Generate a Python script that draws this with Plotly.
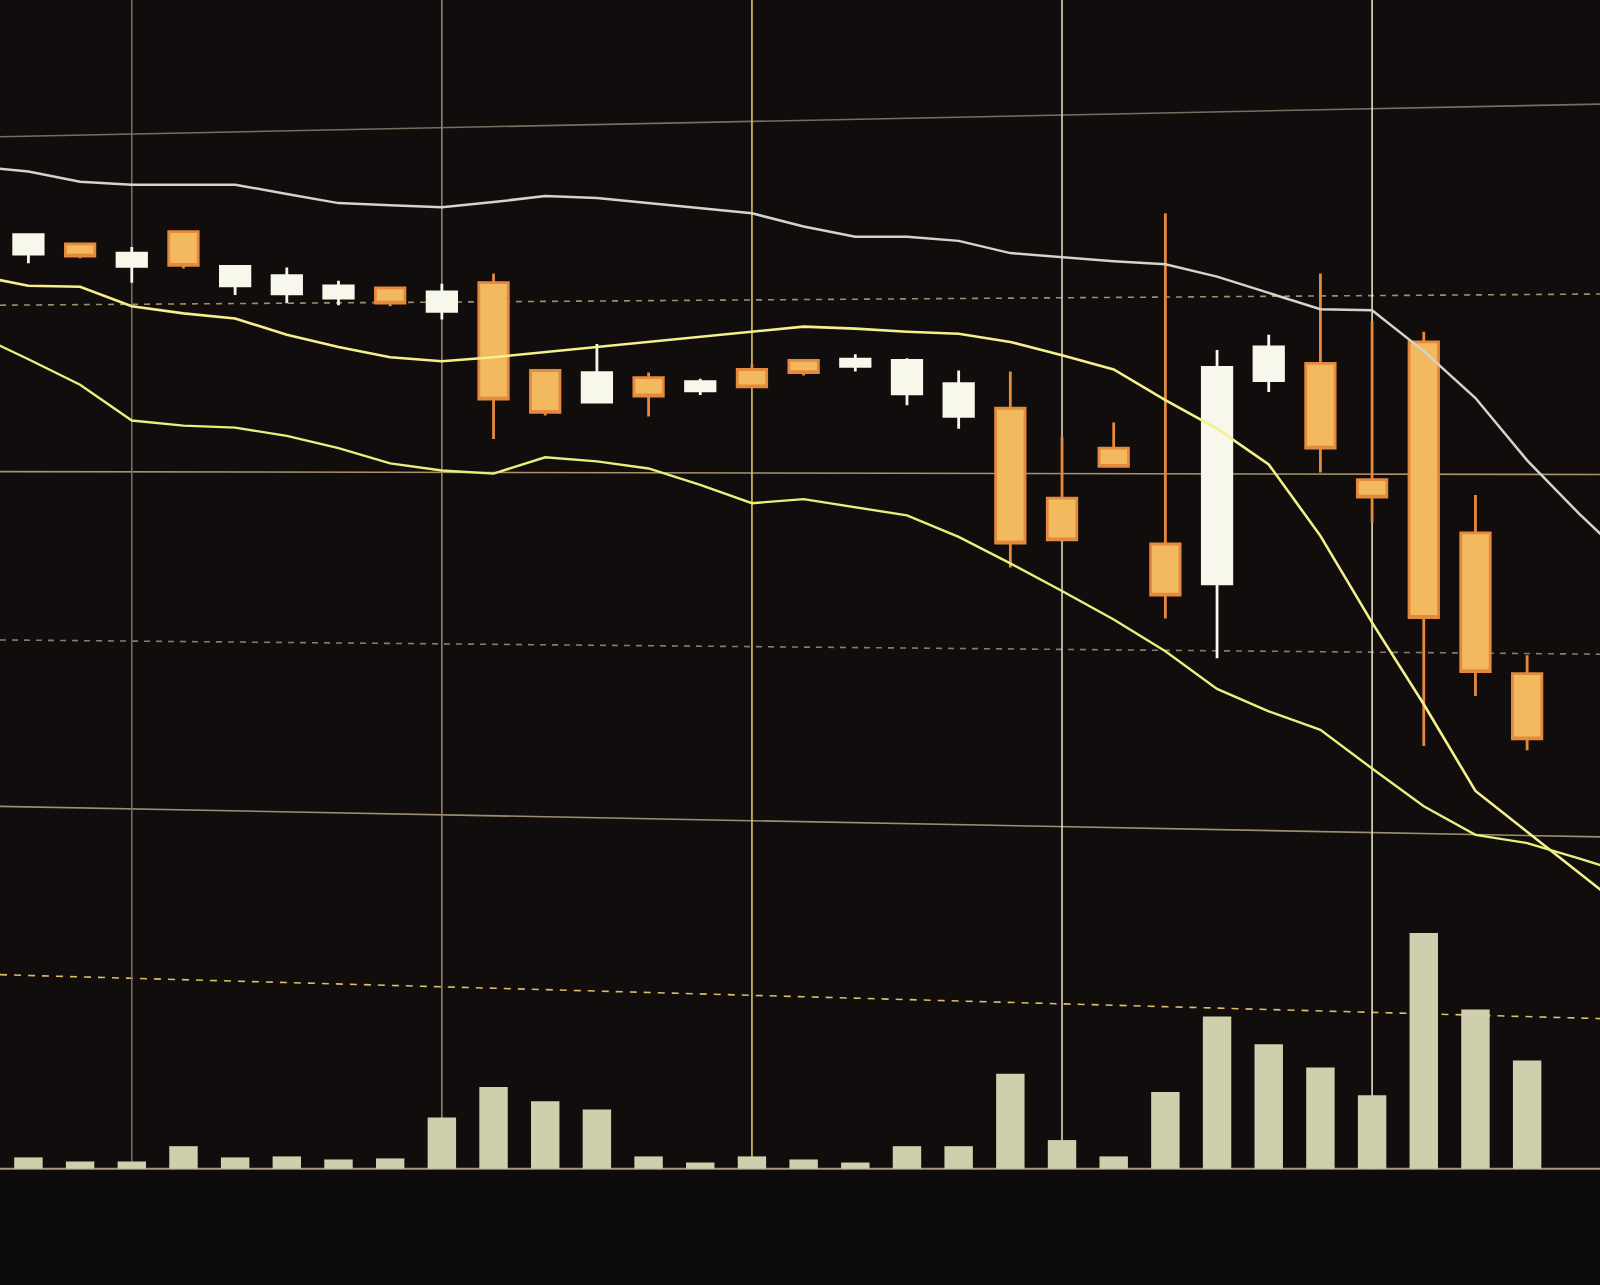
import plotly.graph_objects as go

# ---- data (price units arbitrary) ----
candle_idx = list(range(31))
opens  = [75.3, 75.1, 76.1, 73.9, 77.3, 72.0, 71.2, 70.8, 71.8, 69.5,
          72.3, 63.7, 60.6, 63.0, 61.7, 63.8, 64.7, 64.1, 61.4, 59.2,
          60.0, 51.2, 56.1, 46.7, 42.8, 62.7, 64.4, 53.0, 66.5, 47.8, 34.0]
highs  = [79.0, 77.0, 76.1, 75.8, 77.3, 73.9, 73.8, 72.5, 71.8, 72.2,
          73.2, 63.7, 66.3, 63.5, 62.9, 64.3, 64.7, 65.3, 64.9, 63.7,
          63.6, 57.2, 58.6, 79.1, 65.7, 67.2, 73.2, 68.5, 67.5, 51.5, 35.8]
lows   = [75.3, 74.2, 74.7, 72.3, 73.7, 71.1, 70.3, 70.1, 70.0, 68.7,
          57.0, 59.3, 60.5, 59.2, 61.3, 62.1, 63.2, 63.6, 60.3, 58.0,
          44.4, 46.9, 54.3, 39.4, 35.5, 61.6, 53.7, 48.8, 26.9, 31.8, 26.5]
closes = [78.7, 77.0, 74.9, 75.2, 74.0, 73.9, 73.0, 72.0, 70.3, 71.4,
          60.9, 59.6, 63.5, 61.2, 62.6, 62.1, 63.5, 64.8, 64.7, 62.4,
          46.8, 47.1, 54.3, 41.7, 64.0, 66.0, 56.1, 51.3, 39.5, 34.2, 27.6]
volumes = [2200, 1100, 700, 700, 2200, 1100, 1200, 900, 1000, 5000,
           8000, 6600, 5800, 1200, 600, 1200, 900, 600, 2200, 2200,
           9300, 2800, 1200, 7500, 14900, 12200, 9900, 7200, 23100, 15600, 10600]

band_idx = list(range(33))
upper_band = [83.7, 83.2, 82.2, 81.9, 81.9, 81.9, 81.0, 80.1, 79.9, 79.7,
              80.2, 80.8, 80.6, 80.1, 79.6, 79.1, 77.8, 76.8, 76.8, 76.4,
              75.2, 74.8, 74.4, 74.1, 72.9, 71.3, 69.7, 69.6, 65.6, 61.0,
              54.9, 49.7, 44.9]
middle_band = [73.0, 72.0, 71.9, 70.0, 69.3, 68.8, 67.2, 66.0, 65.0, 64.6,
               65.0, 65.5, 66.0, 66.5, 67.0, 67.5, 68.0, 67.8, 67.5, 67.3,
               66.5, 65.2, 63.8, 60.8, 58.0, 54.5, 47.5, 39.0, 31.0, 22.5,
               18.5, 14.5, 10.5]
lower_band = [67.2, 64.8, 62.3, 58.8, 58.3, 58.1, 57.3, 56.1, 54.6, 53.9,
              53.6, 55.2, 54.8, 54.1, 52.5, 50.7, 51.1, 50.3, 49.5, 47.4,
              44.8, 42.1, 39.3, 36.2, 32.5, 30.3, 28.5, 24.7, 21.0, 18.2,
              17.4, 15.9, 14.3]

vgrid_idx = [3, 9, 15, 21, 27]
vgrid_colors = ["#766c5e", "#8e836e", "#dcc564", "#dcd6bc", "#e6dec6"]

# ---- figure ----
BG = "#110d0d"
BG_LOW = "#0e0b0b"
X_RANGE = [0.45, 31.41]
Y_RANGE = [-25.9, 100]
V_RANGE = [-11400, 114500]

fig = go.Figure()

fig.add_trace(go.Bar(
    x=candle_idx, y=volumes, yaxis="y2",
    marker=dict(color="#cfcfae", line=dict(width=0)),
    showlegend=False, hoverinfo="skip",
))

fig.add_trace(go.Scatter(x=band_idx, y=upper_band, mode="lines",
                         line=dict(color="#d4d4ca", width=2.5), showlegend=False))
fig.add_trace(go.Scatter(x=band_idx, y=middle_band, mode="lines",
                         line=dict(color="#f5f08c", width=2.6), showlegend=False))
fig.add_trace(go.Scatter(x=band_idx, y=lower_band, mode="lines",
                         line=dict(color="#e8f07c", width=2.4), showlegend=False))

fig.add_trace(go.Candlestick(
    x=candle_idx, open=opens, high=highs, low=lows, close=closes,
    increasing=dict(fillcolor="#f8f7ec", line=dict(color="#f8f7ec", width=2.8)),
    decreasing=dict(fillcolor="#f3b95e", line=dict(color="#e5893c", width=2.8)),
    whiskerwidth=0, showlegend=False,
))

shapes = []
# slightly darker floor under the volume baseline
shapes.append(dict(type="rect", xref="paper", yref="y2", x0=0, x1=1,
                   y0=V_RANGE[0], y1=0, fillcolor=BG_LOW, line=dict(width=0),
                   layer="below"))

# photographed (slightly tilted) horizontal grid lines: (left, right, color, dash)
hgrid = [
    (0.8936, 0.9190, "#7a6d60", "solid"),
    (0.7625, 0.7712, "#a08e6a", "6px,6px"),
    (0.6330, 0.6307, "#a8936a", "solid"),
    (0.5020, 0.4909, "#8a7c6c", "6px,6px"),
    (0.3725, 0.3487, "#9e8e70", "solid"),
    (0.2415, 0.2073, "#dcbc6c", "7px,7px"),
]
for yl, yr, col, dash in hgrid:
    shapes.append(dict(type="line", xref="paper", yref="paper", x0=0, x1=1,
                       y0=yl, y1=yr, line=dict(color=col, width=1.6, dash=dash),
                       layer="below"))

# volume baseline
shapes.append(dict(type="line", xref="paper", yref="y2", x0=0, x1=1, y0=0, y1=0,
                   line=dict(color="#a89878", width=2), layer="below"))

# vertical grid lines from the top down to the volume baseline
for xi, col in zip(vgrid_idx, vgrid_colors):
    shapes.append(dict(type="line", xref="x", yref="y2", x0=xi, x1=xi,
                       y0=0, y1=V_RANGE[1], line=dict(color=col, width=1.6),
                       layer="below"))

fig.update_layout(
    width=1600, height=1285,
    margin=dict(l=0, r=0, t=0, b=0),
    paper_bgcolor=BG, plot_bgcolor=BG,
    showlegend=False,
    bargap=0.45, boxgap=0.43, boxgroupgap=0,
    shapes=shapes,
    xaxis=dict(range=X_RANGE, visible=False, showgrid=False, zeroline=False,
               rangeslider=dict(visible=False), fixedrange=True),
    yaxis=dict(range=Y_RANGE, visible=False, showgrid=False, zeroline=False),
    yaxis2=dict(range=V_RANGE, overlaying="y", visible=False, showgrid=False,
                zeroline=False),
)

fig.write_html(
    "out.html",
    config={"displayModeBar": False},
    post_script=(
        "document.body.style.margin='0';"
        "document.body.style.padding='0';"
        "document.body.style.background='" + BG + "';"
        "document.body.style.overflow='hidden';"
    ),
)
